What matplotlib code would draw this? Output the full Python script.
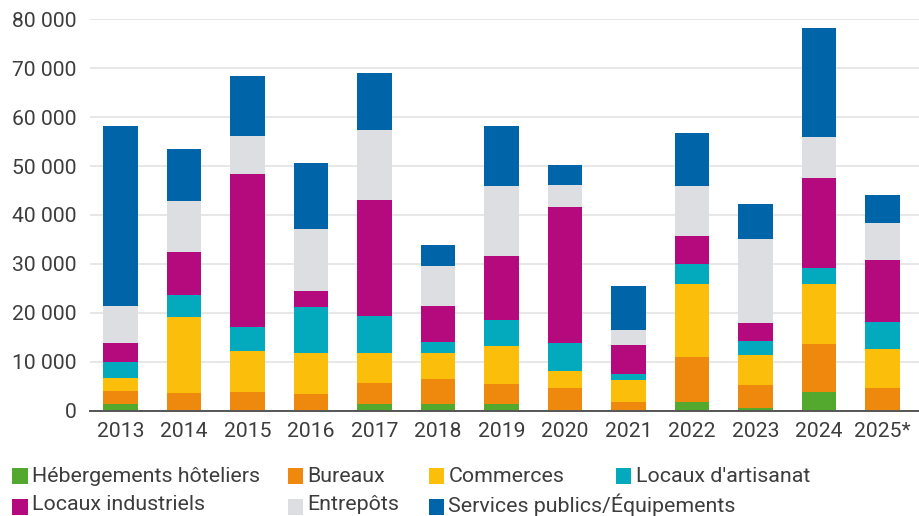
import matplotlib
matplotlib.use("Agg")
import matplotlib.pyplot as plt
from matplotlib.patches import Rectangle
from matplotlib.ticker import FuncFormatter
import numpy as np

plt.rcParams['font.family'] = ['Roboto', 'DejaVu Sans']

years = ['2013', '2014', '2015', '2016', '2017', '2018', '2019', '2020',
         '2021', '2022', '2023', '2024', '2025*']

hebergements = [1360, 0, 0, 0, 1360, 1360, 1360, 0, 0, 1770, 540, 3810, 0]
bureaux = [2660, 3610, 3820, 3410, 4300, 5120, 4090, 4640, 1770, 9180, 4700, 9800, 4630]
commerces = [2660, 15540, 8380, 8380, 6130, 5310, 7770, 3470, 4500, 14900, 6120, 12240, 7960]
artisanat = [3270, 4500, 4910, 9410, 7570, 2250, 5320, 5730, 1230, 4080, 2860, 3270, 5510]
industriels = [3890, 8800, 31290, 3270, 23720, 7360, 13090, 27810, 5930, 5720, 3670, 18360, 12650]
entrepots = [7560, 10430, 7770, 12680, 14320, 8180, 14310, 4500, 3070, 10200, 17140, 8370, 7550]
services = [36810, 10630, 12280, 13500, 11660, 4300, 12270, 4090, 8990, 10820, 7150, 22450, 5710]

series_names = ['Hébergements hôteliers', 'Bureaux', 'Commerces', "Locaux d'artisanat",
                'Locaux industriels', 'Entrepôts', 'Services publics/Équipements']
series_values = [hebergements, bureaux, commerces, artisanat, industriels, entrepots, services]
series_colors = ['#53a92d', '#ef890e', '#fbbe0b', '#03a9bd', '#b5097e', '#dddee2', '#0064a8']

y_ticks = [0, 10000, 20000, 30000, 40000, 50000, 60000, 70000, 80000]

W, H = 919, 516
fig = plt.figure(figsize=(W / 100, H / 100), dpi=100)
ax = fig.add_axes([90 / W, (H - 410.7) / H, (W - 90) / W, (410.7 - 19.3) / H])

x = np.arange(len(years))
bottom = np.zeros(len(years))
for vals, col in zip(series_values, series_colors):
    v = np.array(vals, dtype=float)
    ax.bar(x, v, bottom=bottom, width=0.55, color=col, zorder=3, linewidth=0)
    bottom += v

ax.set_xlim(-0.48, 12.575)
ax.set_ylim(0, 80000)
ax.set_yticks(y_ticks)
ax.yaxis.set_major_formatter(FuncFormatter(lambda v, p: f"{int(v):,}".replace(",", " ")))
ax.set_xticks(x)
ax.set_xticklabels(years)

text_color = '#3d3d3d'
ax.tick_params(axis='both', length=0, labelsize=15.2, colors=text_color)
ax.tick_params(axis='y', pad=9.5)
ax.tick_params(axis='x', pad=8)

ax.grid(axis='y', color='#e3e3e3', linewidth=1.2, zorder=0)
ax.set_axisbelow(True)
for s in ['top', 'right', 'left']:
    ax.spines[s].set_visible(False)
ax.spines['bottom'].set_color('#555555')
ax.spines['bottom'].set_linewidth(1.4)
ax.spines['bottom'].set_zorder(4)

# Legend (manual layout: 4 columns on first row, 3 on second)
legend_pos = [(12, 468), (287.5, 468), (428.5, 468), (615.5, 468),
              (12, 498.5), (287.5, 498.5), (428.5, 498.5)]
sq_w, sq_h = 15.5, 16
for i, ((px, py), name, col) in enumerate(zip(legend_pos, series_names, series_colors)):
    fig.add_artist(Rectangle((px / W, 1 - (py + sq_h) / H), sq_w / W, sq_h / H,
                             transform=fig.transFigure, color=col, linewidth=0))
    ty = py + sq_h / 2 + (0.5 if i < 4 else -1.5)
    fig.text((px + sq_w + 4.5) / W, 1 - ty / H, name,
             fontsize=15.4, color=text_color, va='center', ha='left')

fig.savefig('out.png', dpi=100)
